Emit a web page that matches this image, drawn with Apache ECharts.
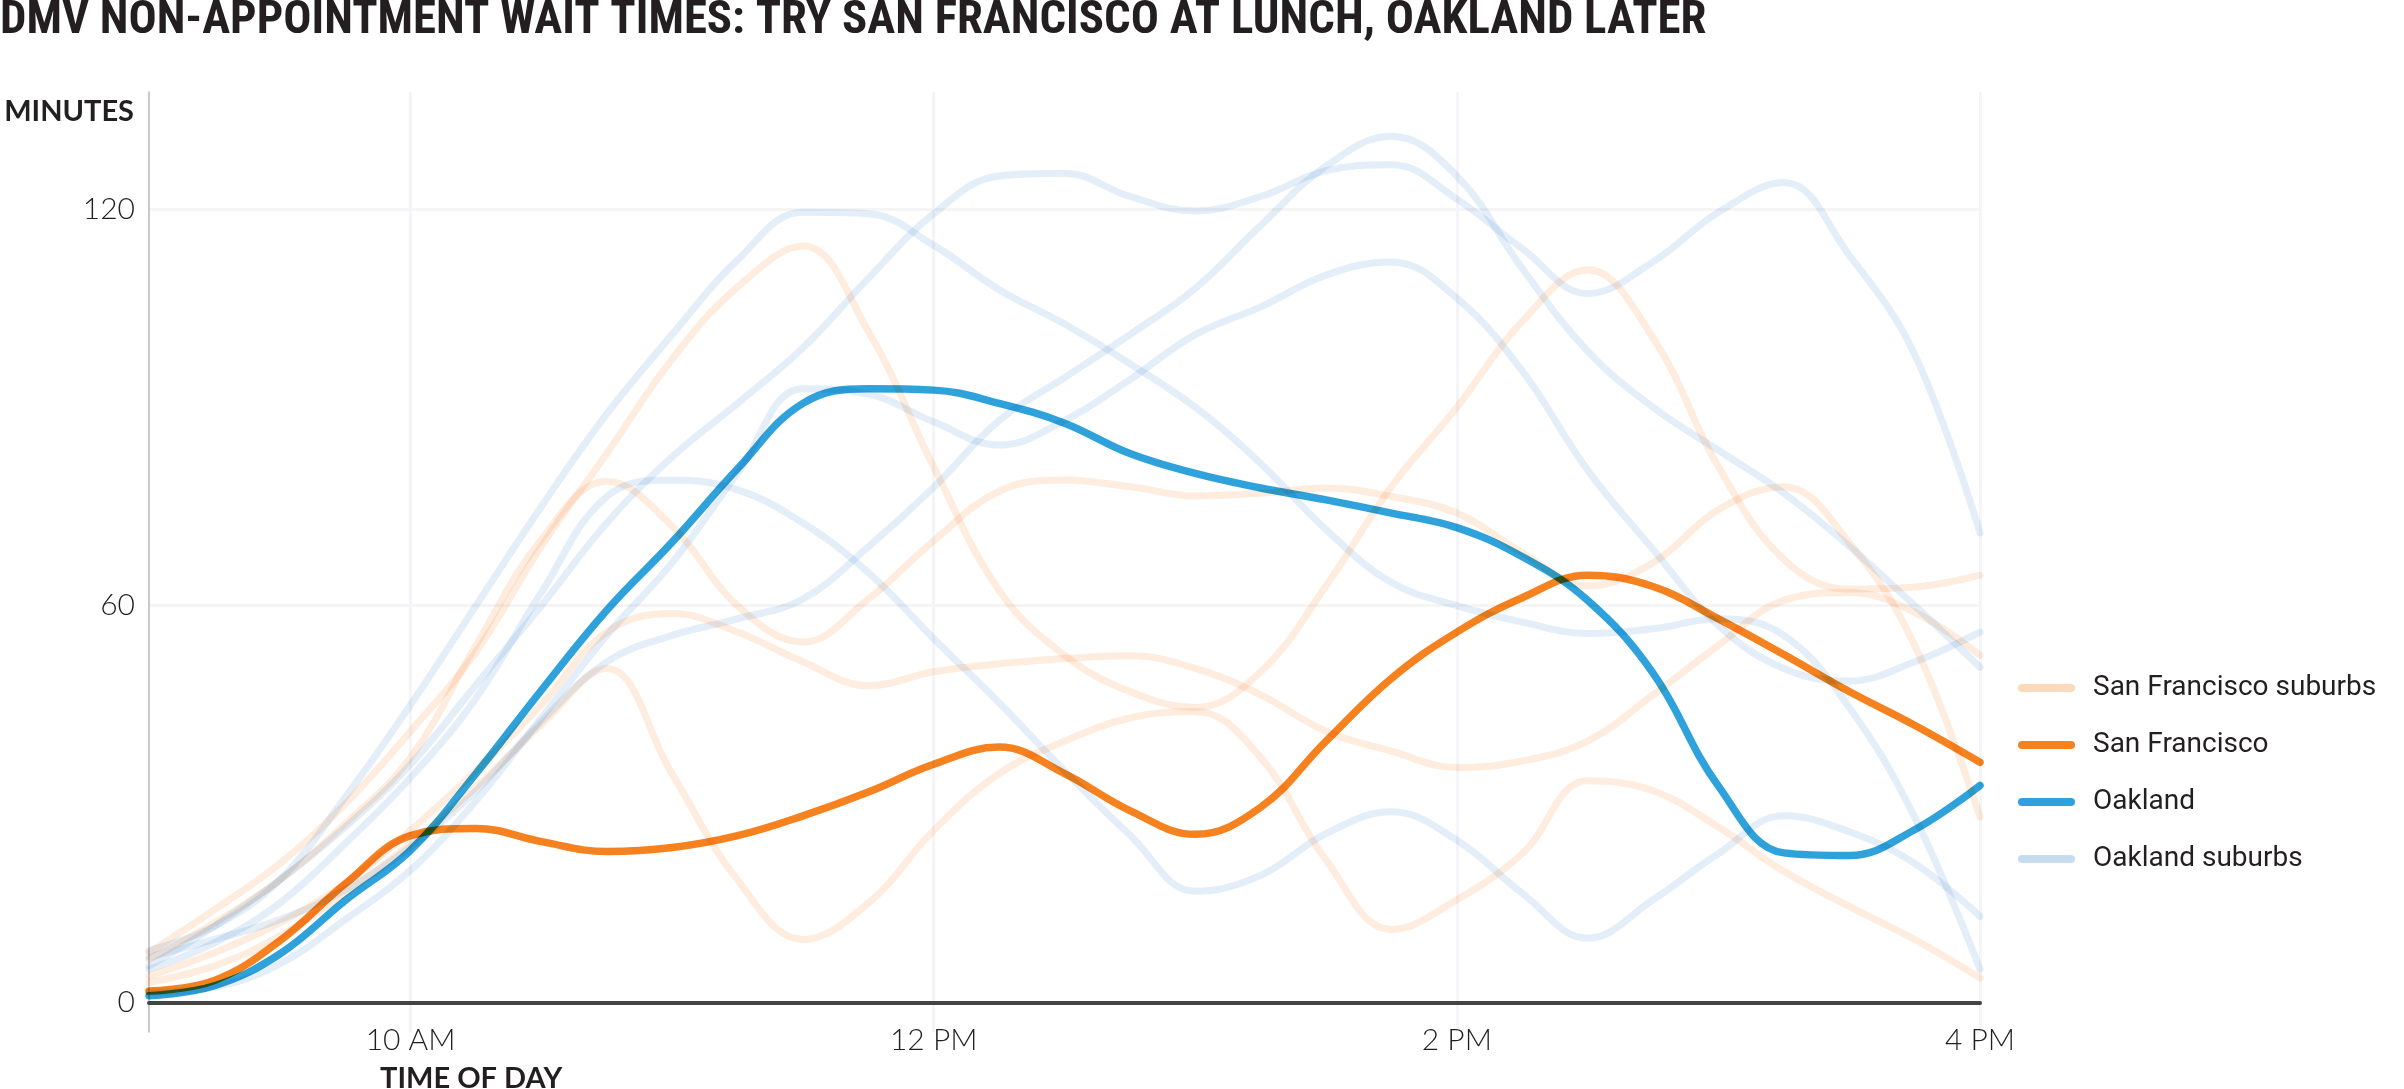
<!DOCTYPE html>
<html>
<head>
<meta charset="utf-8">
<title>DMV non-appointment wait times</title>
<script src="https://cdn.jsdelivr.net/npm/echarts@6/dist/echarts.min.js"></script>
<style>
  html, body { margin: 0; padding: 0; background: #fff; }
  #chart { width: 2404px; height: 1089px; }
</style>
</head>
<body>
<div id="chart"></div>
<script>
// time of day in hours (9 = 9 AM, 16 = 4 PM), one reading every 15 minutes
var hours = [9, 9.25, 9.5, 9.75, 10, 10.25, 10.5, 10.75, 11, 11.25, 11.5, 11.75, 12, 12.25,
  12.5, 12.75, 13, 13.25, 13.5, 13.75, 14, 14.25, 14.5, 14.75, 15, 15.25, 15.5, 15.75, 16];
var hourTicks = [10, 12, 14, 16];
var minuteTicks = [0, 60, 120];

// wait in minutes
var sanFrancisco = [1.7, 3.3, 9.3, 17.9, 25.2, 26.3, 24.3, 22.8, 23.4, 25.2, 28.2, 31.8, 36.0, 38.6,
  34.6, 29.0, 25.4, 29.5, 39.5, 49.0, 56.0, 61.2, 64.6, 62.9, 58.0, 52.6, 47.0, 41.9, 36.3];
var oakland = [1.0, 2.5, 7.3, 15.4, 23.0, 34.6, 47.2, 59.3, 69.6, 80.7, 90.6, 92.8, 92.6, 90.6,
  87.6, 83.0, 80.0, 77.8, 76.0, 74.0, 71.8, 67.4, 60.8, 49.8, 32.7, 22.6, 22.2, 26.1, 32.8];

// san francisco suburbs
var sfSuburbA = [7.5, 14, 21, 30, 41, 53, 69, 83, 97.3, 108.2, 114.4, 101.5, 81, 62.3,
  52.5, 47, 44.6, 50, 63, 78, 90, 103, 110.8, 100.5, 81, 67, 62.5, 62.8, 64.6];
var sfSuburbB = [6.5, 12, 18.5, 27, 37, 54, 70, 78.8, 72, 60, 54.5, 61, 69.8, 77.3,
  79, 78, 76.6, 77, 77.8, 76.5, 74, 68, 63, 66.5, 74.5, 78, 69.5, 54, 28];
var sfSuburbC = [4, 7.5, 12, 18, 26, 35, 45, 56, 58.8, 56, 51.5, 47.9, 50, 51.2,
  52, 52.4, 50.5, 46.5, 41, 38, 35.5, 36.5, 39.5, 46.5, 54, 60.8, 62, 59, 52.5];
var sfSuburbD = [3, 5.5, 10, 16.5, 24, 32.5, 42, 50.5, 34.5, 18.5, 9.5, 15, 26, 34.6,
  39.5, 43, 44, 37, 21.5, 11, 15.5, 22.5, 33.5, 32, 26.5, 19.8, 14.5, 9.5, 3.7];

// oakland suburbs
var oakSuburbA = [5.5, 11.5, 18.5, 26.5, 36, 48, 60, 72.5, 82.5, 90.6, 99, 109.5, 119.3, 125,
  125.4, 121.9, 119.7, 121.9, 125.8, 126.7, 121.5, 114, 107.2, 112, 119.5, 124, 113, 98, 71];
var oakSuburbB = [6.8, 9.5, 12.5, 17, 23.5, 32, 42.5, 51.5, 55.5, 58, 61, 68.9, 77.9, 88,
  94.5, 101, 108, 117.5, 126.5, 131, 125, 111, 98.5, 90, 83.5, 77, 69, 60, 50.7];
var oakSuburbC = [7.8, 11.5, 18.5, 31, 45, 60, 75, 89, 101, 112.3, 119.5, 119.3, 114.5, 107.8,
  102.6, 96.6, 90, 81.5, 71.5, 63.5, 60, 57.5, 55.8, 56.5, 58, 55.5, 44.6, 28, 5];
var oakSuburbD = [1.5, 2.3, 5.8, 12.5, 20, 30.5, 43, 55.5, 66.5, 80, 92.8, 92, 87.8, 84.3,
  88, 94.2, 101, 105.2, 110, 112, 106.5, 95.5, 80.5, 68.5, 57, 50.5, 48.6, 51.5, 56];
var oakSuburbE = [5, 9, 15, 24, 34, 46, 62, 76.5, 79, 77.5, 72.5, 65, 55, 45.3,
  35, 25.3, 16.8, 19.2, 25.5, 28.8, 24.5, 16.5, 9.7, 15.5, 22.5, 28.2, 25.8, 21, 13];

var TITLE = 'DMV NON-APPOINTMENT WAIT TIMES: TRY SAN FRANCISCO AT LUNCH, OAKLAND LATER';
var ORANGE = '245,130,31';
var BLUE = '72,138,205';
var INK = '#231f20';

function pairs(values) {
  return hours.map(function (h, i) { return [h, values[i]]; });
}

function hourLabel(v) {
  if (v < 12) return v + ' AM';
  if (v === 12) return '12 PM';
  return (v - 12) + ' PM';
}

// the headline is a heavy condensed face (~1706px wide, ~31px caps).
// try a few installed faces and keep the one that fits that box best.
function titleFont() {
  var ctx = document.createElement('canvas').getContext('2d');
  var candidates = [
    ['800 semi-condensed', '"Open Sans"'],
    ['bold semi-condensed', '"Open Sans"'],
    ['bold condensed', '"Open Sans"'],
    ['bold semi-condensed', 'Roboto'],
    ['bold', '"DejaVu Sans Condensed"']
  ];
  var best = null;
  candidates.forEach(function (c) {
    ctx.font = '10px serif';
    ctx.font = c[0] + ' 44px ' + c[1];
    if (ctx.font.indexOf('44px') < 0) return;
    var size = 44 * 1706 / ctx.measureText(TITLE).width;
    if (!best || Math.abs(size - 43.5) < Math.abs(best.size - 43.5)) {
      best = { weight: c[0], family: c[1], size: size };
    }
  });
  if (!best) best = { weight: 'bold', family: '"DejaVu Sans Condensed"', size: 38.5 };
  best.size = Math.round(Math.min(50, best.size) * 10) / 10;
  return best;
}

function faintLine(name, values, rgb) {
  return {
    name: name,
    type: 'line',
    data: pairs(values),
    smooth: 0.4,
    symbol: 'none',
    silent: true,
    blendMode: 'multiply',
    lineStyle: { color: 'rgba(' + rgb + ',0.15)', width: 7, cap: 'round', join: 'round' },
    z: 2
  };
}

function mainLine(name, values, color) {
  return {
    name: name,
    type: 'line',
    data: pairs(values),
    smooth: 0.4,
    symbol: 'none',
    silent: true,
    blendMode: 'multiply',
    lineStyle: { color: color, width: 7.5, cap: 'round', join: 'round' },
    z: 3
  };
}

var tf = titleFont();
var chart = echarts.init(document.getElementById('chart'), null, { renderer: 'canvas' });
chart.setOption({
  animation: false,
  backgroundColor: '#fff',
  title: [{
    text: TITLE,
    left: 0,
    top: 22.5 - tf.size * 0.53,
    padding: 0,
    textStyle: {
      fontFamily: tf.family,
      fontWeight: tf.weight,
      fontSize: tf.size,
      lineHeight: tf.size,
      color: INK
    }
  }, {
    text: 'TIME OF DAY',
    left: 380,
    top: 1064,
    padding: 0,
    textStyle: { fontFamily: 'Lato', fontWeight: 'bold', fontSize: 29, color: INK }
  }],
  legend: {
    orient: 'vertical',
    left: 2013,
    top: 668,
    itemWidth: 57,
    itemHeight: 8,
    itemGap: 27,
    selectedMode: false,
    icon: 'path://M4,0H53A4,4,0,0,1,53,8H4A4,4,0,0,1,4,0Z',
    textStyle: { fontFamily: 'Roboto', fontSize: 28, color: INK, lineHeight: 30, padding: [0, 0, 0, 13] },
    data: [
      { name: 'San Francisco suburbs', itemStyle: { color: 'rgba(' + ORANGE + ',0.3)', borderWidth: 0 } },
      { name: 'San Francisco', itemStyle: { color: '#f5821f', borderWidth: 0 } },
      { name: 'Oakland', itemStyle: { color: '#2fa2db', borderWidth: 0 } },
      { name: 'Oakland suburbs', itemStyle: { color: 'rgba(' + BLUE + ',0.3)', borderWidth: 0 } }
    ]
  },
  grid: { left: 149, right: 424, top: 92, bottom: 57, containLabel: false, outerBoundsMode: 'none' },
  xAxis: {
    type: 'value',
    min: 9,
    max: 16,
    axisLine: { show: true, onZero: true, lineStyle: { color: '#444', width: 4 } },
    axisTick: { show: false, customValues: hourTicks },
    axisLabel: {
      customValues: hourTicks,
      formatter: hourLabel,
      margin: -7,
      fontFamily: 'Lato',
      fontWeight: 300,
      fontSize: 30,
      color: INK
    },
    splitLine: { show: true, lineStyle: { color: '#f4f5f8', width: 3 } }
  },
  yAxis: {
    type: 'value',
    min: -4.5,
    max: 137.7,
    name: 'MINUTES',
    nameLocation: 'end',
    nameGap: -20,
    nameTextStyle: {
      align: 'right',
      verticalAlign: 'middle',
      padding: [0, 15, 0, 0],
      fontFamily: 'Lato',
      fontWeight: 'bold',
      fontSize: 29,
      color: INK
    },
    axisLine: { show: true, onZero: false, lineStyle: { color: '#b8b8b8', width: 1.5 } },
    axisTick: { show: false, customValues: minuteTicks },
    axisLabel: {
      customValues: minuteTicks,
      margin: 14,
      fontFamily: 'Lato',
      fontWeight: 300,
      fontSize: 30,
      color: INK
    },
    splitLine: { show: true, lineStyle: { color: '#f5f5f5', width: 3 } }
  },
  series: [
    faintLine('Oakland suburbs', oakSuburbA, BLUE),
    faintLine('Oakland suburbs', oakSuburbB, BLUE),
    faintLine('Oakland suburbs', oakSuburbC, BLUE),
    faintLine('Oakland suburbs', oakSuburbD, BLUE),
    faintLine('Oakland suburbs', oakSuburbE, BLUE),
    faintLine('San Francisco suburbs', sfSuburbA, ORANGE),
    faintLine('San Francisco suburbs', sfSuburbB, ORANGE),
    faintLine('San Francisco suburbs', sfSuburbC, ORANGE),
    faintLine('San Francisco suburbs', sfSuburbD, ORANGE),
    mainLine('San Francisco', sanFrancisco, '#f5821f'),
    mainLine('Oakland', oakland, '#2fa2db')
  ]
});
</script>
</body>
</html>
